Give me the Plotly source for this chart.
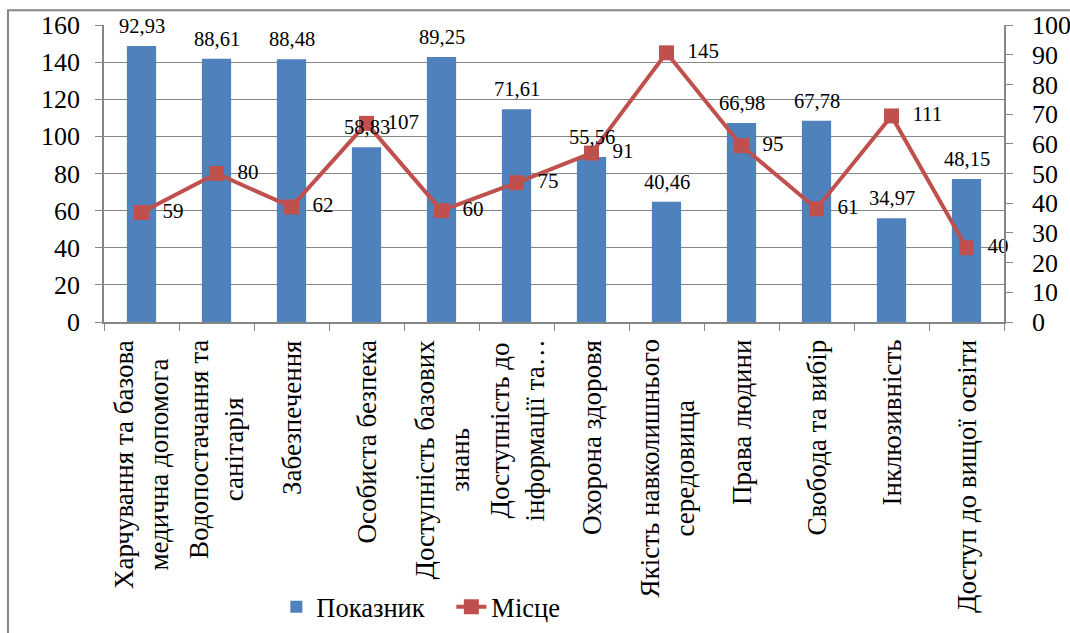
import plotly.graph_objects as go

categories = [
    "Харчування та базова<br>медична допомога",
    "Водопостачання та<br>санітарія",
    "Забезпечення",
    "Особиста безпека",
    "Доступність базових<br>знань",
    "Доступність до<br>інформації та…",
    "Охорона здоровя",
    "Якість навколишнього<br>середовища",
    "Права людини",
    "Свобода та вибір",
    "Інклюзивність",
    "Доступ до вищої освіти",
]
pokaznyk = [92.93, 88.61, 88.48, 58.83, 89.25, 71.61, 55.56, 40.46, 66.98, 67.78, 34.97, 48.15]
mistse = [59, 80, 62, 107, 60, 75, 91, 145, 95, 61, 111, 40]

left_ticks = list(range(0, 161, 20))
right_ticks = list(range(0, 101, 10))

FONT = "Liberation Serif"
GREY = "#868686"
BLUE = "#4F81BD"
RED = "#C0504D"

fig = go.Figure()
fig.add_trace(go.Bar(
    x=categories, y=pokaznyk, name="Показник", yaxis="y",
    marker=dict(color=BLUE, line=dict(width=0)),
    hovertemplate="%{y:.2f}<extra></extra>",
))
fig.add_trace(go.Scatter(
    x=categories, y=mistse, name="Місце", yaxis="y2", mode="lines+markers+text",
    line=dict(color=RED, width=4),
    marker=dict(symbol="square", size=15, color=RED),
    texttemplate="  %{y}", textposition="middle right", cliponaxis=False,
    textfont=dict(size=21, color="black", family=FONT),
))

annotations = []
# bar value labels
for c, v in zip(categories, pokaznyk):
    annotations.append(dict(
        x=c, xref="x", y=v, yref="y", yanchor="bottom", xanchor="center",
        yshift=7, text=f"{v:.2f}".replace(".", ","), showarrow=False,
        font=dict(size=20.5, family=FONT, color="black"),
    ))
# category labels
for c in categories:
    annotations.append(dict(
        x=c, xref="x", y=0, yref="paper", yanchor="top", xanchor="center",
        yshift=-16, text=c, textangle=-90, align="center", showarrow=False,
        font=dict(size=27, family=FONT, color="black"),
    ))

fig.update_layout(
    template="none",
    width=1070, height=633,
    margin=dict(l=104, r=66, t=25, b=311, autoexpand=False),
    paper_bgcolor="white", plot_bgcolor="white",
    font=dict(family=FONT, size=26, color="black"),
    separators=", ",
    bargap=0.61,
    xaxis=dict(type="category", range=[-0.5, 11.5], autorange=False, showticklabels=False,
               ticks="outside", tickson="boundaries", automargin=False,
               ticklen=7, tickcolor=GREY, showline=True, linecolor=GREY, linewidth=1.5,
               showgrid=False, zeroline=False),
    yaxis=dict(side="right", range=[0, 100], autorange=False, tickvals=right_ticks, ticks="outside",
               ticklen=7, automargin=False,
               tickcolor=GREY, showline=True, linecolor=GREY, linewidth=1.5, showgrid=False,
               zeroline=False, tickfont=dict(size=26, family=FONT), ticklabelstandoff=14),
    yaxis2=dict(side="left", overlaying="y", range=[0, 160], autorange=False, tickvals=left_ticks,
                ticks="outside", automargin=False,
                ticklen=7, tickcolor=GREY, showline=True, linecolor=GREY, linewidth=1.5,
                showgrid=True, gridcolor=GREY, gridwidth=1, zeroline=False,
                tickfont=dict(size=26, family=FONT), ticklabelstandoff=10),
    legend=dict(orientation="h", x=0.1915, y=-0.96, xanchor="left", yanchor="middle",
                font=dict(size=26.5, family=FONT), bgcolor="rgba(0,0,0,0)", entrywidth=130),
    annotations=annotations,
    shapes=[dict(type="rect", xref="paper", yref="paper", x0=-0.1067, x1=1.12, y0=-1.2, y1=1.05,
                 line=dict(color=GREY, width=2), layer="below")],
    showlegend=True,
)

fig.write_html("out.html", config={"displayModeBar": False},
               post_script="document.body.style.margin='0px';document.body.style.padding='0px';")
